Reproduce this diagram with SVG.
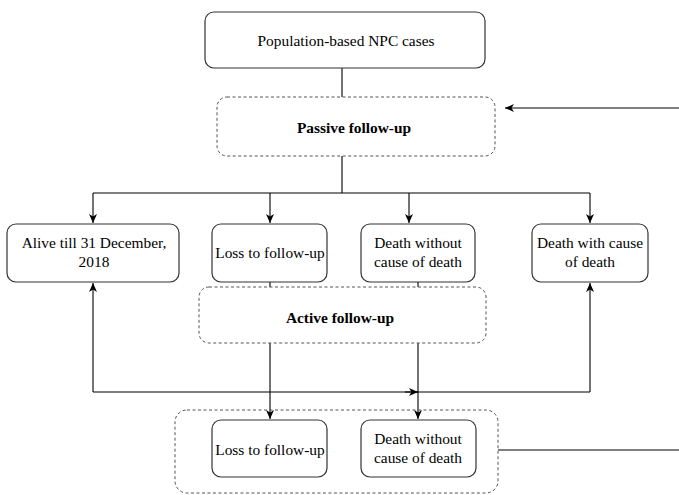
<svg xmlns="http://www.w3.org/2000/svg" width="679" height="495" viewBox="0 0 679 495">
<defs>
<marker id="ah" markerWidth="10" markerHeight="8" refX="9" refY="4" orient="auto" markerUnits="userSpaceOnUse">
<path d="M0,0 L9,4 L0,8 L2.5,4 Z" fill="#000"/>
</marker>
</defs>
<style>
.box{fill:#fff;stroke:#333;stroke-width:1.2}
.dash{fill:none;stroke:#555;stroke-width:1;stroke-dasharray:3 2.5}
.t{font-family:"Liberation Serif","Times New Roman",serif;font-size:15.4px;fill:#000;text-anchor:middle}
.b{font-weight:bold}
.c{fill:none;stroke:#000;stroke-width:1.1}
.ca{fill:none;stroke:#000;stroke-width:1.1;marker-end:url(#ah)}
</style>
<rect width="679" height="495" fill="#fff"/>
<g id="connectors">
<path class="c" d="M342,68 V97"/>
<path class="ca" d="M679,108 H505"/>
<path class="c" d="M342,156 V193 M93,193 H590"/>
<path class="ca" d="M93,193 V223"/>
<path class="ca" d="M270,193 V223"/>
<path class="ca" d="M409,193 V223"/>
<path class="ca" d="M590,193 V223"/>
<path class="c" d="M270,282 V287 M418,282 V287"/>
<path class="ca" d="M270,343 V419"/>
<path class="ca" d="M418,343 V419"/>
<path class="c" d="M93,392 H590"/>
<path class="ca" d="M93,392 V283"/>
<path class="ca" d="M590,392 V283"/>
<path class="ca" d="M405,392 H418"/>
<path class="c" d="M498,450 H679"/>
</g>
<g id="node-population">
<rect class="box" x="205" y="12" width="280" height="56" rx="9"/>
<text class="t" x="346" y="46">Population-based NPC cases</text>
</g>
<g id="node-passive">
<rect class="dash" x="217" y="97" width="278" height="59" rx="10"/>
<text class="t b" x="354" y="133">Passive follow-up</text>
</g>
<g id="node-alive">
<rect class="box" x="7" y="224" width="172" height="58" rx="9"/>
<text class="t" x="94" y="248">Alive till 31 December,</text>
<text class="t" x="94" y="267">2018</text>
</g>
<g id="node-loss1">
<rect class="box" x="212" y="224" width="115" height="58" rx="9"/>
<text class="t" x="270" y="258">Loss to follow-up</text>
</g>
<g id="node-death-without1">
<rect class="box" x="361" y="224" width="114" height="58" rx="9"/>
<text class="t" x="418" y="248">Death without</text>
<text class="t" x="418" y="267">cause of death</text>
</g>
<g id="node-death-with">
<rect class="box" x="532" y="224" width="116" height="58" rx="9"/>
<text class="t" x="590" y="248">Death with cause</text>
<text class="t" x="590" y="267">of death</text>
</g>
<g id="node-active">
<rect class="dash" x="199" y="287" width="287" height="56" rx="10"/>
<text class="t b" x="340" y="323">Active follow-up</text>
</g>
<g id="node-group-bottom">
<rect class="dash" x="175" y="410" width="323" height="83" rx="12"/>
</g>
<g id="node-loss2">
<rect class="box" x="212" y="420" width="115" height="57" rx="9"/>
<text class="t" x="270" y="455">Loss to follow-up</text>
</g>
<g id="node-death-without2">
<rect class="box" x="361" y="420" width="115" height="57" rx="9"/>
<text class="t" x="418" y="444">Death without</text>
<text class="t" x="418" y="463">cause of death</text>
</g>
</svg>
